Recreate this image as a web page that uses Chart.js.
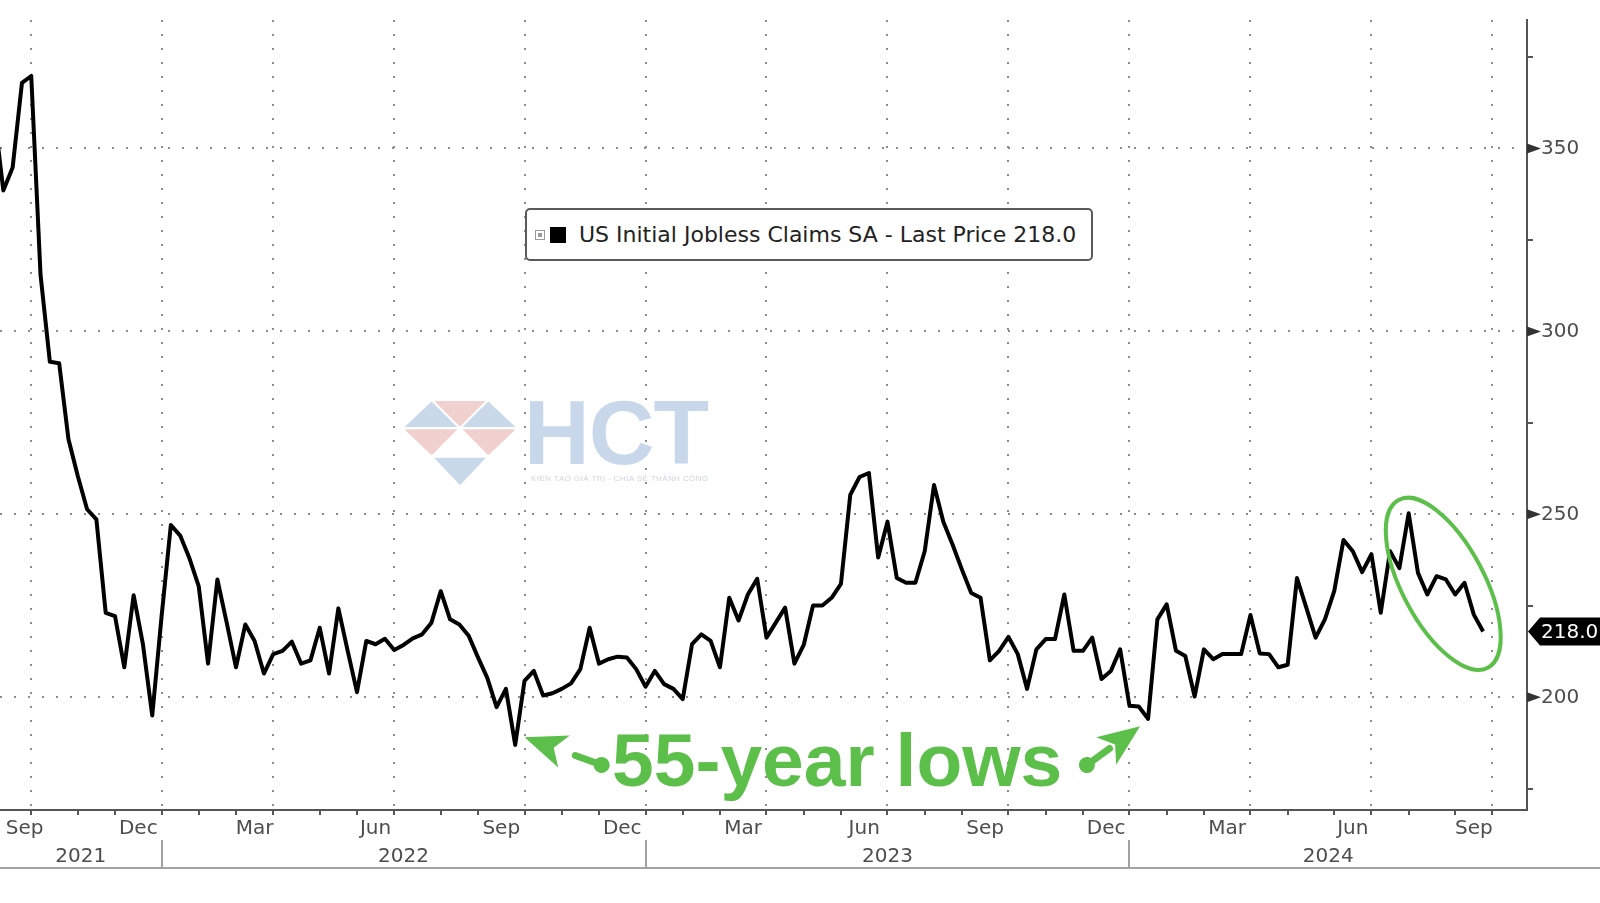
<!DOCTYPE html>
<html>
<head>
<meta charset="utf-8">
<title>US Initial Jobless Claims SA</title>
<script src="https://cdn.jsdelivr.net/npm/chart.js@4.4.1/dist/chart.umd.min.js"></script>
<style>
  body { margin: 0; background: #fff; }
  #wrap { position: relative; width: 1600px; height: 903px; overflow: hidden; background: #fff; }
  #chart { position: absolute; left: 0; top: 0; }
  .legend {
    position: absolute; left: 525px; top: 208px; width: 564px; height: 49px;
    border: 2px solid #5a5a5a; border-radius: 5px; background: #fff;
    display: flex; align-items: center; font: 22px 'DejaVu Sans', sans-serif; color: #222;
  }
  .legend .tog { width: 8px; height: 8px; border: 1px solid #9a9a9a; margin-left: 8px; position: relative; }
  .legend .tog::after { content: ''; position: absolute; left: 2px; top: 2px; width: 4px; height: 4px; background: #9a9a9a; }
  .legend .sq { width: 16px; height: 16px; background: #000; margin-left: 5px; }
  .legend .txt { margin-left: 13px; white-space: nowrap; }
  .lows {
    position: absolute; left: 612px; top: 723px; font: bold 75px 'Liberation Sans', Arial, sans-serif;
    line-height: 1; color: #5cbf4a; white-space: nowrap;
  }
  .wm { position: absolute; pointer-events: none; }
  .wm-hct { left: 524px; top: 387px; font: bold 91px 'Liberation Sans', Arial, sans-serif; line-height: 1; color: #c8d8ea; letter-spacing: -1px; }
  .wm-sub { left: 531px; top: 474px; font: 8px 'Liberation Sans', Arial, sans-serif; color: #cdd5df; white-space: nowrap; letter-spacing: 0.4px; }
</style>
</head>
<body>
<div id="wrap">
  <canvas id="chart" width="1600" height="903"></canvas>
  <svg class="wm" style="left:400px; top:398px" width="120" height="92">
    <g stroke="#fff" stroke-width="2" stroke-linejoin="round">
      <polygon points="1.7,30.3 31.7,2 60,30.3" fill="#c9d9ea"/>
      <polygon points="31.7,2 88.3,2 60,30.3" fill="#f1d0d0"/>
      <polygon points="88.3,2 118.3,30.3 60,30.3" fill="#c9d9ea"/>
      <polygon points="1.7,30.3 60,30.3 31.7,58.7" fill="#f1d0d0"/>
      <polygon points="60,30.3 118.3,30.3 88.3,58.7" fill="#f1d0d0"/>
      <polygon points="31.7,58.7 88.3,58.7 60,88.7" fill="#c9d9ea"/>
    </g>
  </svg>
  <div class="wm wm-hct">HCT</div>
  <div class="wm wm-sub">KIẾN TẠO GIÁ TRỊ - CHIA SẺ THÀNH CÔNG</div>
  <div class="legend"><span class="tog"></span><span class="sq"></span><span class="txt" id="legendText"></span></div>
  <div class="lows">55-year lows</div>
</div>
<script>
// weekly claims (thousands), one value per week starting at firstWeek
const firstWeek = '2021-08-28';
const claims = [
  360, 338.5, 344.8, 367.9, 369.8, 315.4, 291.7, 291.3, 270.5, 260.5,
  251.4, 248.6, 223.1, 222.2, 208.2, 227.9, 214.5, 195.0, 222.0, 247.1,
  244.2, 238.0, 230.3, 209.2, 232.2, 220.4, 208.2, 219.9, 215.4, 206.5,
  211.8, 212.7, 215.2, 209.2, 210.1, 219.0, 206.5, 224.3, 212.7, 201.4,
  215.4, 214.5, 216.0, 212.9, 214.3, 216.1, 217.2, 220.4, 229.0, 221.3,
  219.9, 216.8, 210.9, 205.3, 197.3, 202.3, 187.0, 204.5, 207.2, 200.5,
  201.1, 202.3, 203.8, 207.7, 219.0, 209.2, 210.4, 211.1, 210.9, 207.7,
  202.9, 207.2, 203.6, 202.3, 199.5, 214.5, 217.2, 215.4, 208.2, 227.2,
  221.0, 228.1, 232.4, 216.3, 220.4, 224.5, 209.2, 214.3, 225.1, 225.1,
  227.2, 231.0, 255.3, 260.2, 261.3, 238.2, 248.0, 232.6, 231.3, 231.3,
  239.9, 258.0, 248.0, 241.7, 234.9, 228.5, 227.2, 210.1, 212.7, 216.5,
  211.8, 202.3, 213.1, 215.9, 215.9, 228.1, 212.7, 212.7, 216.3, 205.0,
  207.2, 213.1, 197.7, 197.5, 194.1, 221.3, 225.4, 212.7, 211.3, 200.2,
  213.1, 210.4, 211.8, 211.8, 211.8, 222.5, 212.0, 211.8, 208.2, 208.9,
  232.6, 224.5, 216.3, 221.3, 229.0, 243.0, 239.9, 234.2, 239.1, 223.1,
  239.9, 235.3, 250.3, 234.0, 228.1, 233.1, 232.2, 228.1, 231.3, 222.6,
  218.0
];
const yearLabels = ['2021', '2022', '2023', '2024'];
const monthLabels = ['Mar', 'Jun', 'Sep', 'Dec'];
const monthLabelIdx = [2, 5, 8, 11];
const yTicks = [175, 200, 225, 250, 275, 300, 325, 350, 375];
const xRange = ['2021-09-01T12:00:00Z', '2024-10-24T00:00:00Z'];
const yRange = [169.2, 385.1];

// annotations, in data units
const lowArrows = [
  { from: ['2022-11-28', 181.5], to: ['2022-10-01', 189.1] },
  { from: ['2023-11-28', 181.5], to: ['2024-01-07', 192.1] }
];
const ring = { at: ['2024-08-22', 231], rx: 95, ry: 41, angle: 62 };

const GREEN = '#5cbf4a';
const GRID = '#8c8c8c';
const AXIS = '#555';
const LABEL = '#4d4d4d';
const labelEdgeDays = 18.5;

const DAY = 86400000;
const toDay = s => Date.parse(s) / DAY;
const d0 = toDay(firstWeek);
const xMin = toDay(xRange[0]);
const xMax = toDay(xRange[1]);
const points = claims.map((v, i) => ({ x: d0 + 7 * i, y: v }));
const lastValue = claims[claims.length - 1];

document.getElementById('legendText').textContent =
  'US Initial Jobless Claims SA - Last Price ' + lastValue.toFixed(1);

// week-ending point on or before a date (the chart snaps month marks to the weekly grid)
const snap = d => d0 + Math.floor((d - d0) / 7) * 7;
const monthStart = (y, m) => Date.UTC(y, m, 1) / DAY;
const firstYear = +yearLabels[0];
const lastYear = +yearLabels[yearLabels.length - 1];

function monthTicks() {
  const out = [];
  for (let y = firstYear; y <= lastYear; y++) {
    for (let m = 0; m < 12; m++) {
      const v = snap(monthStart(y, m));
      if (v > xMin && v < xMax) out.push({ value: v, q: m % 3 === 0 });
    }
  }
  return out;
}

function monthLabelTicks() {
  const out = [];
  yearLabels.forEach(yl => {
    monthLabelIdx.forEach((m, k) => {
      const a = snap(monthStart(+yl, m));
      const b = snap(monthStart(+yl, m + 1));
      if (b <= xMin || a >= xMax) return;
      out.push({ value: Math.max((a + b) / 2, xMin + labelEdgeDays), text: monthLabels[k] });
    });
  });
  return out.sort((p, q) => p.value - q.value);
}

function yearTicks() {
  return yearLabels.map(yl => {
    const a = Math.max(snap(monthStart(+yl, 0)), xMin);
    const b = Math.min(snap(monthStart(+yl + 1, 0)), xMax);
    return { value: (a + b) / 2, text: yl };
  });
}

const axisFont = { family: 'DejaVu Sans', size: 20 };

const decorations = {
  id: 'decorations',
  afterDatasetsDraw(chart) {
    const { ctx, scales: { x, y } } = chart;
    const px = p => ({ x: x.getPixelForValue(toDay(p[0])), y: y.getPixelForValue(p[1]) });
    ctx.save();
    // ring around the latest weeks
    const c = px(ring.at);
    ctx.strokeStyle = GREEN;
    ctx.lineWidth = 4;
    ctx.beginPath();
    ctx.ellipse(c.x, c.y, ring.rx, ring.ry, ring.angle * Math.PI / 180, 0, Math.PI * 2);
    ctx.stroke();
    // arrows to the lows
    ctx.fillStyle = GREEN;
    ctx.strokeStyle = GREEN;
    lowArrows.forEach(a => {
      const t = px(a.from), h = px(a.to);
      const len = Math.hypot(h.x - t.x, h.y - t.y);
      ctx.save();
      ctx.translate(h.x, h.y);
      ctx.rotate(Math.atan2(h.y - t.y, h.x - t.x));
      ctx.beginPath();
      ctx.moveTo(0, 0);
      ctx.lineTo(-42, -17);
      ctx.lineTo(-31, 0);
      ctx.lineTo(-42, 17);
      ctx.closePath();
      ctx.fill();
      ctx.lineWidth = 7;
      ctx.lineCap = 'round';
      ctx.beginPath();
      ctx.moveTo(-len, 0);
      ctx.lineTo(-len + 28, 0);
      ctx.stroke();
      ctx.beginPath();
      ctx.arc(-len, 0, 8, 0, Math.PI * 2);
      ctx.fill();
      ctx.restore();
    });
    ctx.restore();
  },
  afterDraw(chart) {
    const { ctx, chartArea, scales: { y, xy } } = chart;
    ctx.save();
    // triangle markers at labelled y ticks
    ctx.fillStyle = '#333';
    y.ticks.forEach(t => {
      if (t.value % 50 !== 0) return;
      const py = y.getPixelForValue(t.value);
      ctx.beginPath();
      ctx.moveTo(chartArea.right, py - 5);
      ctx.lineTo(chartArea.right + 14, py);
      ctx.lineTo(chartArea.right, py + 5);
      ctx.closePath();
      ctx.fill();
    });
    // year band: separators and bottom rule
    ctx.strokeStyle = '#a3a3a3';
    ctx.lineWidth = 2;
    yearLabels.slice(1).forEach(yl => {
      const sx = Math.round(xy.getPixelForValue(snap(monthStart(+yl, 0))));
      ctx.beginPath();
      ctx.moveTo(sx, xy.top);
      ctx.lineTo(sx, xy.bottom);
      ctx.stroke();
    });
    ctx.beginPath();
    ctx.moveTo(0, xy.bottom - 1);
    ctx.lineTo(chart.width, xy.bottom - 1);
    ctx.stroke();
    // last price tag
    const ty = y.getPixelForValue(lastValue);
    const r = chartArea.right;
    ctx.fillStyle = '#000';
    ctx.beginPath();
    ctx.moveTo(r + 1, ty);
    ctx.lineTo(r + 13, ty - 14);
    ctx.lineTo(chart.width, ty - 14);
    ctx.lineTo(chart.width, ty + 14);
    ctx.lineTo(r + 13, ty + 14);
    ctx.closePath();
    ctx.fill();
    ctx.fillStyle = '#fff';
    ctx.font = '20px "DejaVu Sans"';
    ctx.textBaseline = 'middle';
    ctx.textAlign = 'left';
    ctx.fillText(lastValue.toFixed(1), r + 14, ty + 1);
    ctx.restore();
  }
};

new Chart(document.getElementById('chart'), {
  type: 'line',
  data: {
    datasets: [{
      label: 'US Initial Jobless Claims SA',
      data: points,
      borderColor: '#000',
      borderWidth: 4,
      borderJoinStyle: 'round',
      pointRadius: 0,
      tension: 0,
      xAxisID: 'x',
      yAxisID: 'y'
    }]
  },
  options: {
    responsive: false,
    animation: false,
    devicePixelRatio: 1,
    layout: { padding: { top: 17, bottom: 34, left: 0, right: 0 } },
    plugins: { legend: { display: false }, tooltip: { enabled: false } },
    scales: {
      x: {
        type: 'linear', position: 'bottom', min: xMin, max: xMax,
        afterBuildTicks: s => { s.ticks = monthTicks(); },
        afterFit: s => { s.height = 6; },
        ticks: { display: false },
        grid: {
          color: c => (c.tick && c.tick.q ? GRID : 'transparent'),
          lineWidth: 2, tickLength: 5, tickWidth: 2, tickColor: AXIS
        },
        border: { color: AXIS, width: 2, dash: [2, 12] }
      },
      xm: {
        type: 'linear', position: 'bottom', min: xMin, max: xMax,
        afterBuildTicks: s => { s.ticks = monthLabelTicks(); },
        afterFit: s => { s.height = 24; },
        ticks: { autoSkip: false, maxRotation: 0, padding: 1, color: LABEL, font: axisFont,
          callback: (v, i, ticks) => ticks[i].text },
        grid: { display: false, drawTicks: false },
        border: { display: false }
      },
      xy: {
        type: 'linear', position: 'bottom', min: xMin, max: xMax,
        afterBuildTicks: s => { s.ticks = yearTicks(); },
        afterFit: s => { s.height = 29; },
        ticks: { autoSkip: false, maxRotation: 0, padding: 5, color: LABEL, font: axisFont,
          callback: (v, i, ticks) => ticks[i].text },
        grid: { display: false, drawTicks: false },
        border: { display: false }
      },
      y: {
        type: 'linear', position: 'right', min: yRange[0], max: yRange[1],
        afterBuildTicks: s => { s.ticks = yTicks.map(v => ({ value: v })); },
        afterFit: s => { s.width = 73; },
        ticks: { padding: 8, color: LABEL, font: axisFont,
          callback: v => (v % 50 === 0 ? String(v) : '') },
        grid: {
          color: c => (c.tick && c.tick.value % 50 === 0 ? GRID : 'transparent'),
          lineWidth: 2, tickLength: 6, tickWidth: 2,
          tickColor: c => (c.tick && c.tick.value % 50 === 0 ? 'transparent' : AXIS)
        },
        border: { color: AXIS, width: 2, dash: [2, 12] }
      }
    }
  },
  plugins: [decorations]
});
</script>
</body>
</html>
